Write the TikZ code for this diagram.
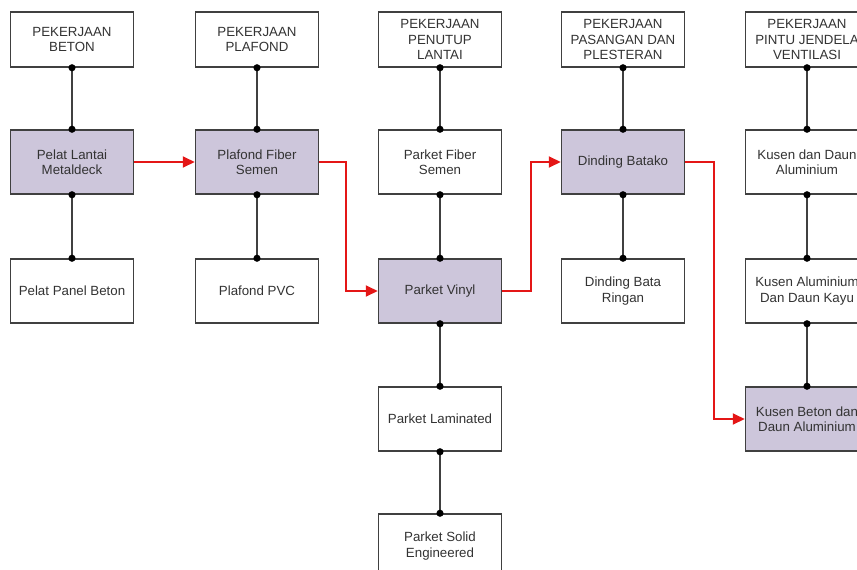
\documentclass[tikz,border=0pt]{standalone}
\usepackage{fontspec}
\setmainfont{Liberation Sans}
\usetikzlibrary{arrows.meta}
\definecolor{lavender}{RGB}{205,198,219}
\definecolor{edge}{RGB}{64,64,64}
\definecolor{flow}{RGB}{228,22,22}

\begin{document}
\begin{tikzpicture}[x=1pt,y=-1pt,
  box/.style={draw=edge,line width=1.5pt,fill=white,minimum width=123pt,minimum height=64pt,inner sep=1pt,align=center,text=black!80,font=\fontsize{13.3}{15.5}\selectfont},
  head/.style={box,minimum height=55pt},
  pick/.style={box,fill=lavender},
  link/.style={draw=edge,line width=1.8pt,{Circle[length=7pt,color=black]}-{Circle[length=7pt,color=black]},shorten <=-3.5pt,shorten >=-3.5pt},
  flowline/.style={draw=flow,line width=2pt,-{Triangle[length=12pt,width=11pt]}}]
\useasboundingbox (0,0) rectangle (857,570);
% kolom beton
\node[head] (beton) at (72,39.5) {PEKERJAAN\\BETON};
\node[pick] (metaldeck) at (72,162) {Pelat Lantai\\Metaldeck};
\node[box] (panelbeton) at (72,291) {Pelat Panel Beton};
% kolom plafond
\node[head] (plafond) at (257,39.5) {PEKERJAAN\\PLAFOND};
\node[pick] (fibersemen) at (257,162) {Plafond Fiber\\Semen};
\node[box] (pvc) at (257,291) {Plafond PVC};
% kolom penutup lantai
\node[head] (lantai) at (440,39.5) {PEKERJAAN\\PENUTUP\\LANTAI};
\node[box] (parketfiber) at (440,162) {Parket Fiber\\Semen};
\node[pick] (vinyl) at (440,291) {Parket Vinyl};
\node[box] (laminated) at (440,419) {Parket Laminated};
\node[box] (solid) at (440,546) {Parket Solid\\Engineered};
% kolom pasangan
\node[head] (pasangan) at (623,39.5) {PEKERJAAN\\PASANGAN DAN\\PLESTERAN};
\node[pick] (batako) at (623,162) {Dinding Batako};
\node[box] (bataringan) at (623,291) {Dinding Bata\\Ringan};
% kolom pintu jendela
\node[head] (pintu) at (807,39.5) {PEKERJAAN\\PINTU JENDELA\\VENTILASI};
\node[box] (kusenalu) at (807,162) {Kusen dan Daun\\Aluminium};
\node[box] (kusenkayu) at (807,291) {Kusen Aluminium\\Dan Daun Kayu};
\node[pick] (kusenbeton) at (807,419) {Kusen Beton dan\\Daun Aluminium};

\draw[link] (beton.south) -- (metaldeck.north);
\draw[link] (metaldeck.south) -- (panelbeton.north);
\draw[link] (plafond.south) -- (fibersemen.north);
\draw[link] (fibersemen.south) -- (pvc.north);
\draw[link] (lantai.south) -- (parketfiber.north);
\draw[link] (parketfiber.south) -- (vinyl.north);
\draw[link] (vinyl.south) -- (laminated.north);
\draw[link] (laminated.south) -- (solid.north);
\draw[link] (pasangan.south) -- (batako.north);
\draw[link] (batako.south) -- (bataringan.north);
\draw[link] (pintu.south) -- (kusenalu.north);
\draw[link] (kusenalu.south) -- (kusenkayu.north);
\draw[link] (kusenkayu.south) -- (kusenbeton.north);

% jalur pilihan
\draw[flowline] (metaldeck.east) -- (fibersemen.west);
\draw[flowline] (fibersemen.east) -- ++(27,0) |- (vinyl.west);
\draw[flowline] (vinyl.east) -- ++(29,0) |- (batako.west);
\draw[flowline] (batako.east) -- ++(29,0) |- (kusenbeton.west);
\end{tikzpicture}
\end{document}
